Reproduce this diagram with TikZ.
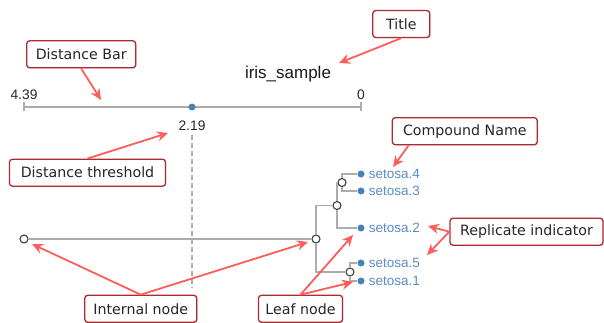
\documentclass[tikz,border=0pt]{standalone}
\usepackage{fontspec}
\setmainfont{Liberation Sans}
\newfontfamily\notefont{DejaVu Sans}
\usetikzlibrary{positioning, arrows.meta, shadows}

\definecolor{leafblue}{RGB}{70,130,180}
\definecolor{labelblue}{RGB}{88,140,196}
\definecolor{branchgray}{RGB}{172,172,172}
\definecolor{notered}{RGB}{172,42,48}
\definecolor{pointred}{RGB}{255,92,92}

\begin{document}
\begin{tikzpicture}
    [
        x=1pt, y=-1pt,
        branch/.style={draw=branchgray, line width=1.4pt},
        inner_node/.style={circle, draw=black!75, fill=white, line width=1.1pt, inner sep=0pt, minimum size=8pt},
        leaf_node/.style={circle, fill=leafblue, inner sep=0pt, minimum size=7pt},
        leaf_label/.style={text=labelblue, font=\fontsize{13.5}{16}\selectfont, inner sep=1pt},
        scale_label/.style={text=black!85, font=\fontsize{13.8}{16}\selectfont, anchor=base},
        note/.style={draw=notered, fill=white, rounded corners=3pt, line width=1.3pt, minimum height=27pt, inner sep=0pt,
            font=\notefont\fontsize{14.2}{17}\selectfont, text=black!85,
            drop shadow={opacity=0.25, shadow xshift=0.8pt, shadow yshift=-0.8pt}},
        pointer/.style={-{Stealth[length=11pt, width=10pt]}, draw=pointred, line width=1.8pt},
    ]
        \useasboundingbox (0,0) rectangle (604,323);

        \node[font=\fontsize{17}{20}\selectfont, text=black!90, anchor=base] (title) at (288,79) {iris\_sample};

        \coordinate (bar_left) at (24,107);
        \coordinate (bar_right) at (361,107);
        \draw[branch] (bar_left) -- (bar_right);
        \draw[branch] ([yshift=4.5pt]bar_left) -- ([yshift=-4.5pt]bar_left);
        \draw[branch] ([yshift=4.5pt]bar_right) -- ([yshift=-4.5pt]bar_right);
        \node[scale_label] (bar_max) at (24,100) {4.39};
        \node[scale_label] (bar_min) at (361,100) {0};
        \node[leaf_node] (cut) at (192,107) {};
        \node[scale_label] (cut_value) at (192,131) {2.19};
        \coordinate (cut_end) at (192,287);
        \draw[branchgray, line width=1.3pt, dash pattern=on 5.5pt off 2.5pt] (cut_value.south) -- (cut_end);

        \node[inner_node] (root) at (24,239) {};
        \node[inner_node] (n1) at (316,239) {};
        \node[inner_node] (n2) at (337,205.5) {};
        \node[inner_node] (n3) at (342,182.5) {};
        \node[inner_node] (n4) at (350,272) {};
        \node[leaf_node] (leaf4) at (361,174) {};
        \node[leaf_node] (leaf3) at (361,191) {};
        \node[leaf_node] (leaf2) at (361,228) {};
        \node[leaf_node] (leaf5) at (361,263) {};
        \node[leaf_node] (leaf1) at (361,281) {};
        \node[leaf_label] (name4) [right = 3pt of leaf4] {setosa.4};
        \node[leaf_label] (name3) [right = 3pt of leaf3] {setosa.3};
        \node[leaf_label] (name2) [right = 3pt of leaf2] {setosa.2};
        \node[leaf_label] (name5) [right = 3pt of leaf5] {setosa.5};
        \node[leaf_label] (name1) [right = 3pt of leaf1] {setosa.1};

        \draw[branch] (root) -- (n1);
        \draw[branch] (n1) |- (n2);
        \draw[branch] (n1) |- (n4);
        \draw[branch] (n2) |- (n3);
        \draw[branch] (n2) |- (leaf2);
        \draw[branch] (n3) |- (leaf4);
        \draw[branch] (n3) |- (leaf3);
        \draw[branch] (n4) |- (leaf5);
        \draw[branch] (n4) |- (leaf1);

        \node[note, minimum width=57pt] (note_title) at (401.3,24) {Title};
        \node[note, minimum width=109pt] (note_bar) at (81.2,54.3) {Distance Bar};
        \node[note, minimum width=145pt] (note_name) at (464.8,131.2) {Compound Name};
        \node[note, minimum width=156pt] (note_cut) at (87.5,172.7) {Distance threshold};
        \node[note, minimum width=153pt] (note_rep) at (526.5,231.7) {Replicate indicator};
        \node[note, minimum width=112pt] (note_inner) at (140.8,308.8) {Internal node};
        \node[note, minimum width=84pt] (note_leaf) at (300.5,308.8) {Leaf node};

        \coordinate (title_tip) at (339,63);
        \coordinate (bar_tip) at (101,100);
        \coordinate (name_tip) at (393,167);
        \coordinate (cut_tip) at (168,133);
        \coordinate (root_tip) at (32,244);
        \coordinate (n1_tip) at (308,242);
        \coordinate (leaf2_tip) at (353,235);
        \coordinate (leaf1_tip) at (353,282);
        \coordinate (rep_tip_a) at (428,226);
        \coordinate (rep_tip_b) at (427,255);

        \draw[pointer] (note_title.south) -- (title_tip);
        \draw[pointer] (note_bar.south) -- (bar_tip);
        \draw[pointer] ([xshift=17pt]note_name.south west) -- (name_tip);
        \draw[pointer] (note_cut.north) -- (cut_tip);
        \draw[pointer] (note_inner.north) -- (root_tip);
        \draw[pointer] (note_inner.north) -- (n1_tip);
        \draw[pointer] (note_leaf.north) -- (leaf2_tip);
        \draw[pointer] (note_leaf.north) -- (leaf1_tip);
        \draw[pointer] (note_rep.west) -- (rep_tip_a);
        \draw[pointer] (note_rep.west) -- (rep_tip_b);
    \end{tikzpicture}
\end{document}
